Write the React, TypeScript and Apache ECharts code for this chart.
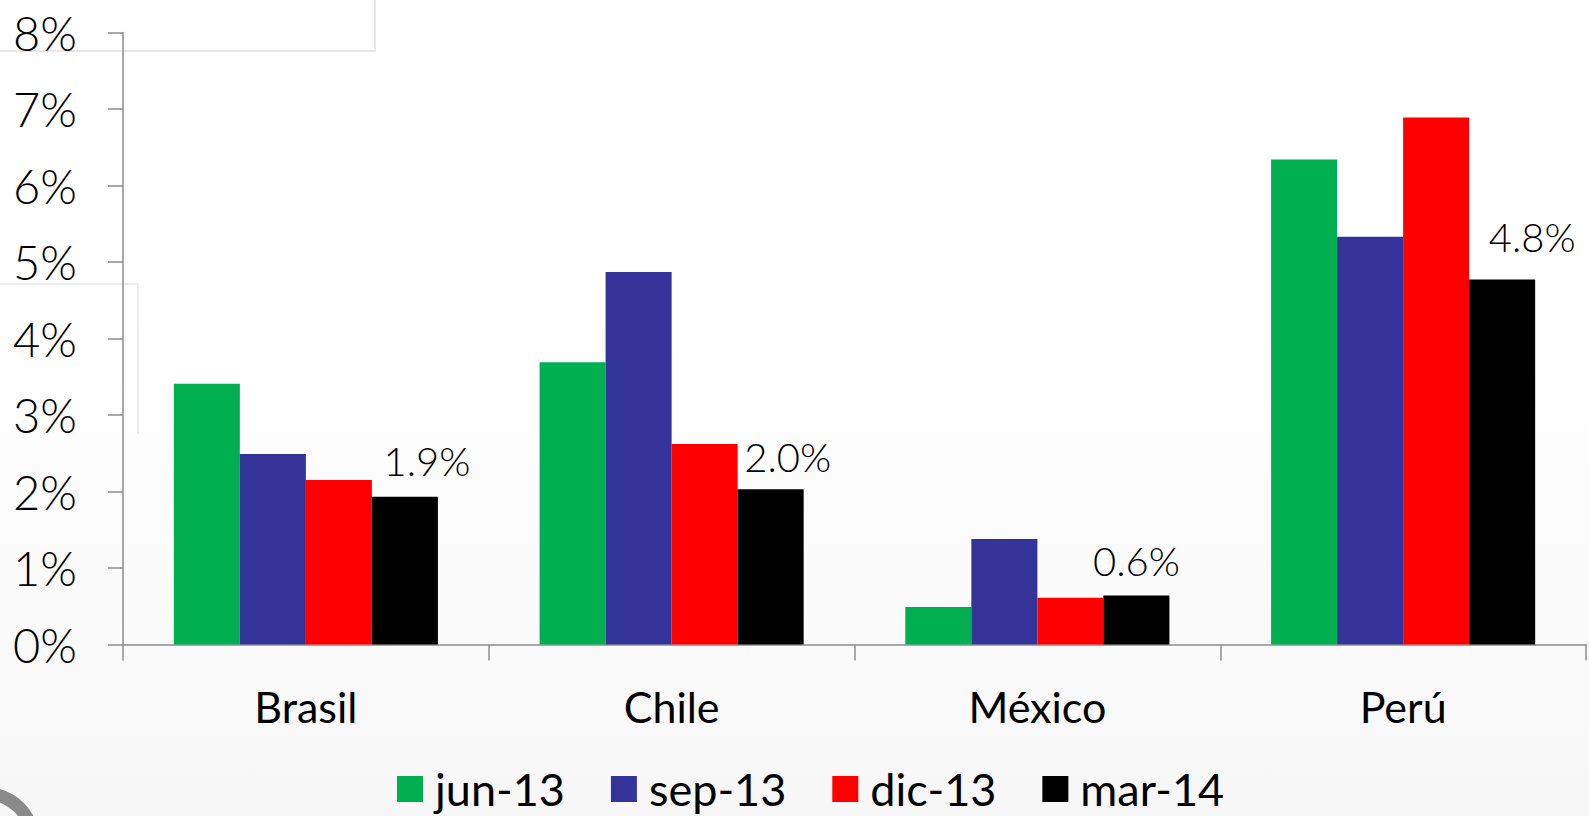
import React, { useEffect, useRef } from "react";
import * as echarts from "echarts";

const categories = ["Brasil", "Chile", "México", "Perú"];
const seriesNames = ["jun-13", "sep-13", "dic-13", "mar-14"];
const jun13 = [3.41, 3.69, 0.49, 6.34];
const sep13 = [2.49, 4.87, 1.38, 5.33];
const dic13 = [2.15, 2.62, 0.61, 6.89];
const mar14 = [1.93, 2.03, 0.64, 4.77];
const mar14Labels = ["1.9%", "2.0%", "0.6%", "4.8%"];
const labelOffsets = [[22, -2], [17, 2], [0, -1], [30, -9]];
const colors = ["#00AF50", "#333399", "#FF0000", "#000000"];
const yTicks = [0, 1, 2, 3, 4, 5, 6, 7, 8];

export default function App() {
  const ref = useRef<HTMLDivElement>(null);
  useEffect(() => {
    if (!ref.current) return;
    const chart = echarts.init(ref.current, null, { renderer: "svg" });
    const values = [jun13, sep13, dic13, mar14];
    const font = "Lato, 'Open Sans', sans-serif";
    chart.setOption({
      animation: false,
      backgroundColor: {
        type: "linear", x: 0, y: 0, x2: 0, y2: 1,
        colorStops: [
          { offset: 0, color: "#ffffff" },
          { offset: 0.4, color: "#ffffff" },
          { offset: 1, color: "#f7f7f7" },
        ],
      },
      textStyle: { fontFamily: font },
      graphic: [
        {
          type: "polyline", z: 0, silent: true,
          shape: { points: [[0, 51], [375, 51], [375, 0]] },
          style: { stroke: "#e8e8e8", lineWidth: 2, fill: null },
        },
        {
          type: "polyline", z: 0, silent: true,
          shape: { points: [[0, 284], [138, 284], [138, 434]] },
          style: { stroke: "#ececec", lineWidth: 2, fill: null },
        },
        {
          type: "ring", z: 0, silent: true,
          shape: { cx: -15, cy: 842, r: 55, r0: 42 },
          style: { fill: "#8a8a8a" },
        },
      ],
      grid: { left: 123, right: 3, top: 32.5, bottom: 171.5, containLabel: false },
      legend: {
        left: 392,
        top: 761,
        itemWidth: 26,
        itemHeight: 26,
        itemGap: 46,
        icon: "rect",
        data: seriesNames,
        textStyle: { fontFamily: font, fontSize: 45, color: "#000", lineHeight: 46, padding: [0, 0, 0, 7] },
      },
      xAxis: {
        type: "category",
        data: categories,
        boundaryGap: true,
        axisLine: { lineStyle: { color: "#8c8c8c", width: 1.5 } },
        axisTick: { show: true, length: 16, alignWithLabel: false, lineStyle: { color: "#8c8c8c", width: 1.5 } },
        axisLabel: { fontFamily: font, fontSize: 43, color: "#000", margin: 40, lineHeight: 43 },
      },
      yAxis: {
        type: "value",
        min: yTicks[0],
        max: yTicks[yTicks.length - 1],
        interval: 1,
        splitLine: { show: false },
        axisLine: { show: true, lineStyle: { color: "#8c8c8c", width: 1.5 } },
        axisTick: { show: true, length: 15, lineStyle: { color: "#8c8c8c", width: 1.5 } },
        axisLabel: { fontFamily: font, fontWeight: 300, fontSize: 47, color: "#000", margin: 46, formatter: "{value}%" },
      },
      series: seriesNames.map((name, i) => ({
        name,
        type: "bar",
        barGap: "0%",
        barCategoryGap: "27.8%",
        itemStyle: { color: colors[i] },
        data: values[i].map((v, j) =>
          i === 3
            ? {
                value: v,
                label: {
                  show: true,
                  position: "top",
                  distance: 14,
                  offset: labelOffsets[j],
                  formatter: mar14Labels[j],
                  fontFamily: font,
                  fontWeight: 300,
                  fontSize: 40,
                  lineHeight: 40,
                  color: "#000",
                },
              }
            : v
        ),
      })),
    });
    return () => chart.dispose();
  }, []);
  return (
    <div
      ref={ref}
      style={{ position: "fixed", left: 0, top: 0, width: 1589, height: 816 }}
    />
  );
}
